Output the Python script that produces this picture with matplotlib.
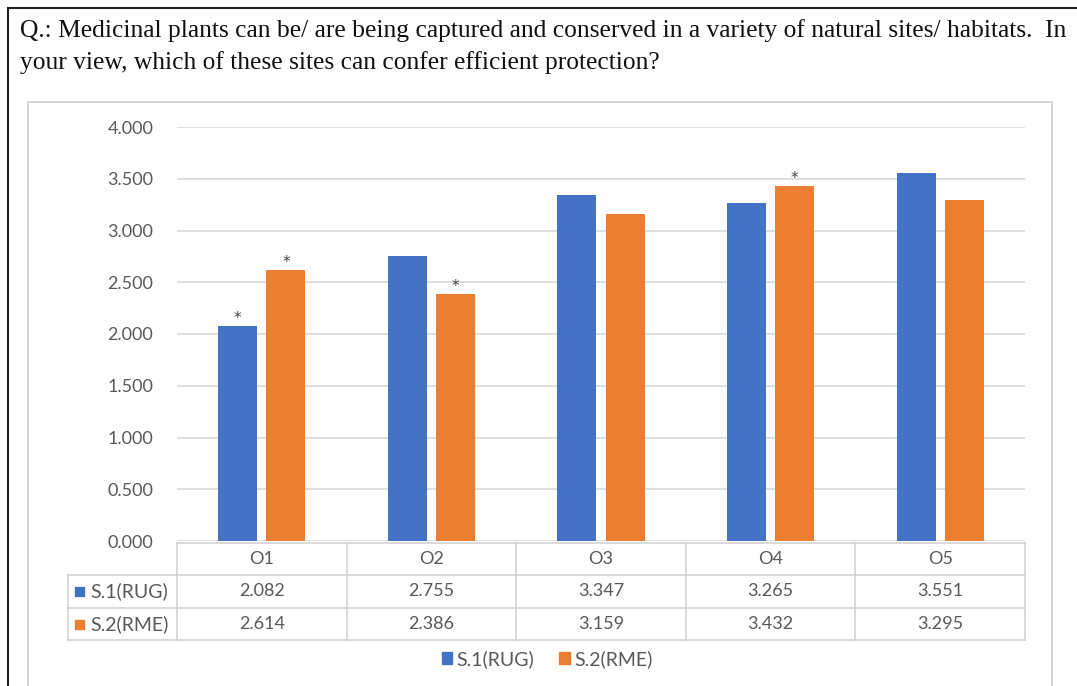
import matplotlib.pyplot as plt
import numpy as np
from matplotlib.patches import Patch, Rectangle
from matplotlib.lines import Line2D
from matplotlib.transforms import blended_transform_factory

W, H = 1077, 686

categories = ['O1', 'O2', 'O3', 'O4', 'O5']
series_names = ['S.1(RUG)', 'S.2(RME)']
s1_rug = [2.082, 2.755, 3.347, 3.265, 3.551]
s2_rme = [2.614, 2.386, 3.159, 3.432, 3.295]
# significance marks above bars
s1_star = [True, False, False, False, False]
s2_star = [True, True, False, True, False]
y_ticks = [0, 0.5, 1.0, 1.5, 2.0, 2.5, 3.0, 3.5, 4.0]

question = ('Q.: Medicinal plants can be/ are being captured and conserved in a variety of '
            'natural sites/ habitats.  In\nyour view, which of these sites can confer '
            'efficient protection?')

BLUE = '#4472C4'
ORANGE = '#ED7D31'
TXT = '#595959'
GRID = '#D9D9D9'
CHART_FONT = ['Lato', 'DejaVu Sans']
FS = 13


def fx(px):
    return px / W


def fy(py):
    return 1 - py / H


fig = plt.figure(figsize=(W / 100, H / 100), dpi=100)
fig.patch.set_facecolor('white')

# page frame and chart box
fig.add_artist(Line2D([fx(8), fx(8)], [fy(8), 0], color='#222222', lw=1.5))
fig.add_artist(Line2D([fx(8), 1], [fy(8), fy(8)], color='#222222', lw=1.5))
fig.add_artist(Rectangle((fx(28), -0.05), fx(1052) - fx(28), fy(102) + 0.05,
                         transform=fig.transFigure, fill=False,
                         edgecolor='#D0D0D0', lw=1.2))

fig.text(fx(20), fy(19), question, ha='left', va='top', fontsize=18.4,
         family='Liberation Serif', color='#111111', linespacing=1.5)

ax = fig.add_axes([fx(177), fy(541), fx(1025) - fx(177), fy(127) - fy(541)])
x = np.arange(len(categories))
bw = 0.23
off = 0.142
b1 = ax.bar(x - off, s1_rug, bw, color=BLUE, zorder=3)
b2 = ax.bar(x + off, s2_rme, bw, color=ORANGE, zorder=3)

for bars, flags in ((b1, s1_star), (b2, s2_star)):
    for bar, flag in zip(bars, flags):
        if flag:
            ax.annotate('*', (bar.get_x() + bar.get_width() / 2, bar.get_height()),
                        xytext=(0, 0), textcoords='offset points', ha='center',
                        va='bottom', fontsize=11, color='#404040')

ax.set_xlim(-0.5, len(categories) - 0.5)
ax.set_ylim(0, 4)
ax.set_yticks(y_ticks)
ax.set_yticklabels([f'{v:.3f}' for v in y_ticks], family=CHART_FONT,
                   fontsize=FS, color=TXT)
ax.tick_params(axis='y', length=0, pad=17)
ax.set_xticks([])
for s in ax.spines.values():
    s.set_visible(False)
ax.yaxis.grid(True, color=GRID, lw=1.2, zorder=0)
ax.set_axisbelow(True)

# data table under the bars
tr = blended_transform_factory(ax.transData, fig.transFigure)
px_per_cat = (1025 - 177) / len(categories)
x_lab = -0.5 - (177 - 68) / px_per_cat
rows_py = [543, 575, 608, 640]
x_end = len(categories) - 0.5
line_kw = dict(color='#CFCFCF', lw=1.1, transform=tr, clip_on=False)

ax.add_line(Line2D([-0.5, x_end], [fy(rows_py[0])] * 2, **line_kw))
for py in rows_py[1:]:
    ax.add_line(Line2D([x_lab, x_end], [fy(py)] * 2, **line_kw))
ax.add_line(Line2D([x_lab, x_lab], [fy(rows_py[1]), fy(rows_py[3])], **line_kw))
for k in range(len(categories) + 1):
    xb = k - 0.5
    ax.add_line(Line2D([xb, xb], [fy(rows_py[0]), fy(rows_py[3])], **line_kw))

cell_kw = dict(transform=tr, ha='center', va='center', fontsize=FS,
               color=TXT, family=CHART_FONT)
for i, cat in enumerate(categories):
    ax.text(i, fy((rows_py[0] + rows_py[1]) / 2), cat, **cell_kw)
for r, (vals, name, col) in enumerate(((s1_rug, series_names[0], BLUE),
                                        (s2_rme, series_names[1], ORANGE))):
    yc = fy((rows_py[r + 1] + rows_py[r + 2]) / 2)
    for i, v in enumerate(vals):
        ax.text(i, yc, f'{v:.3f}', **cell_kw)
    ax.add_patch(Rectangle((fx(75), yc - 4.5 / H), 9 / W, 9 / H,
                           transform=fig.transFigure, color=col, clip_on=False))
    ax.text(fx(90), yc, name, transform=fig.transFigure, ha='left', va='center',
            fontsize=FS + 1, color=TXT, family=CHART_FONT)

handles = [Patch(color=BLUE), Patch(color=ORANGE)]
fig.legend(handles, series_names, loc='center', bbox_to_anchor=(fx(547), fy(659)),
           ncol=2, frameon=False, handlelength=0.55, handleheight=0.55,
           handletextpad=0.2, columnspacing=1.3,
           prop={'family': CHART_FONT, 'size': FS + 1}, labelcolor=TXT)

fig.savefig('out.png', dpi=100)
